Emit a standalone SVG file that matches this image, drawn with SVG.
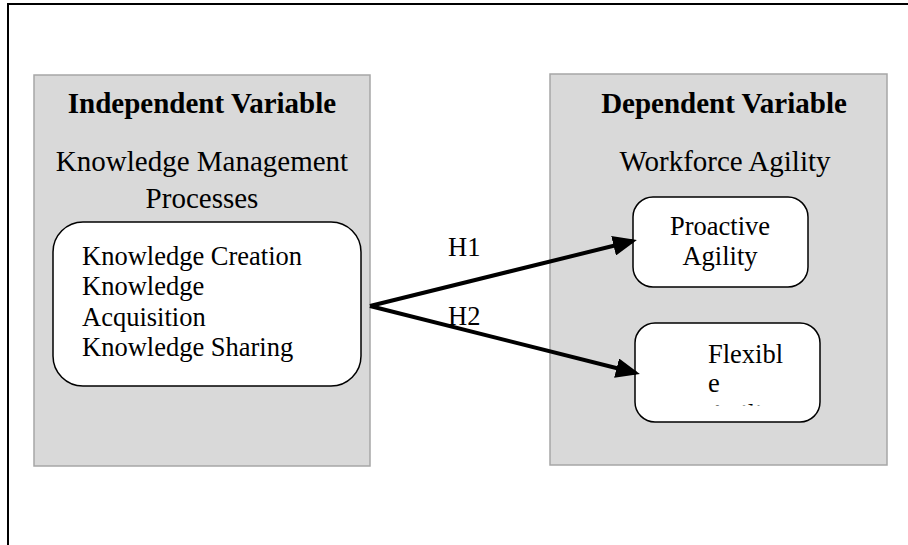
<svg xmlns="http://www.w3.org/2000/svg" width="908" height="545" viewBox="0 0 908 545">
<style>
.panel{fill:#d9d9d9;stroke:#a6a6a6;stroke-width:1.5}
.box{fill:#ffffff;stroke:#000000;stroke-width:1.5}
.t{font-family:"Liberation Serif","Times New Roman",serif;fill:#000}
.h{font-size:29px;font-weight:bold}
.s{font-size:29px}
.n{font-size:26.5px}
.edge{stroke:#000;stroke-width:4;fill:none}
</style>
<defs>
<marker id="arr" markerWidth="6" markerHeight="5" refX="5" refY="2.5" orient="auto" markerUnits="strokeWidth">
<path d="M0,0 L6,2.5 L0,5 z" fill="#000"/>
</marker>
<clipPath id="flexclip"><rect x="636" y="324" width="183" height="81.5"/></clipPath>
</defs>
<rect width="908" height="545" fill="#ffffff"/>
<g id="frame">
<line x1="7" y1="4" x2="908" y2="4" stroke="#000" stroke-width="2"/>
<line x1="8" y1="3" x2="8" y2="545" stroke="#000" stroke-width="2"/>
</g>
<g id="independent">
<rect class="panel" x="34" y="75" width="336" height="391"/>
<text class="t h" x="202" y="113" text-anchor="middle">Independent Variable</text>
<text class="t s" x="202" y="171" text-anchor="middle">Knowledge Management</text>
<text class="t s" x="202" y="208" text-anchor="middle">Processes</text>
</g>
<g id="km-processes">
<rect class="box" x="53" y="222" width="308" height="164" rx="30" ry="30"/>
<text class="t n" x="82" y="265">Knowledge Creation</text>
<text class="t n" x="82" y="295">Knowledge</text>
<text class="t n" x="82" y="326">Acquisition</text>
<text class="t n" x="82" y="356">Knowledge Sharing</text>
</g>
<g id="dependent">
<rect class="panel" x="550" y="74" width="337" height="391"/>
<text class="t h" x="724" y="113" text-anchor="middle">Dependent Variable</text>
<text class="t s" x="725" y="171" text-anchor="middle">Workforce Agility</text>
</g>
<g id="proactive">
<rect class="box" x="633" y="197" width="175" height="90" rx="20" ry="20"/>
<text class="t n" x="720" y="235" text-anchor="middle">Proactive</text>
<text class="t n" x="720" y="265" text-anchor="middle">Agility</text>
</g>
<g id="flexible">
<rect class="box" x="635" y="323" width="185" height="99" rx="20" ry="20"/>
<g clip-path="url(#flexclip)">
<text class="t n" x="708" y="363">Flexibl</text>
<text class="t n" x="708" y="392">e</text>
<text class="t n" x="708" y="423">Agility</text>
</g>
</g>
<g id="connectors">
<line class="edge" x1="370" y1="306" x2="633" y2="241" marker-end="url(#arr)"/>
<line class="edge" x1="370" y1="306" x2="636" y2="373" marker-end="url(#arr)"/>
<text class="t n" x="448" y="256">H1</text>
<text class="t n" x="448" y="325">H2</text>
</g>
</svg>
